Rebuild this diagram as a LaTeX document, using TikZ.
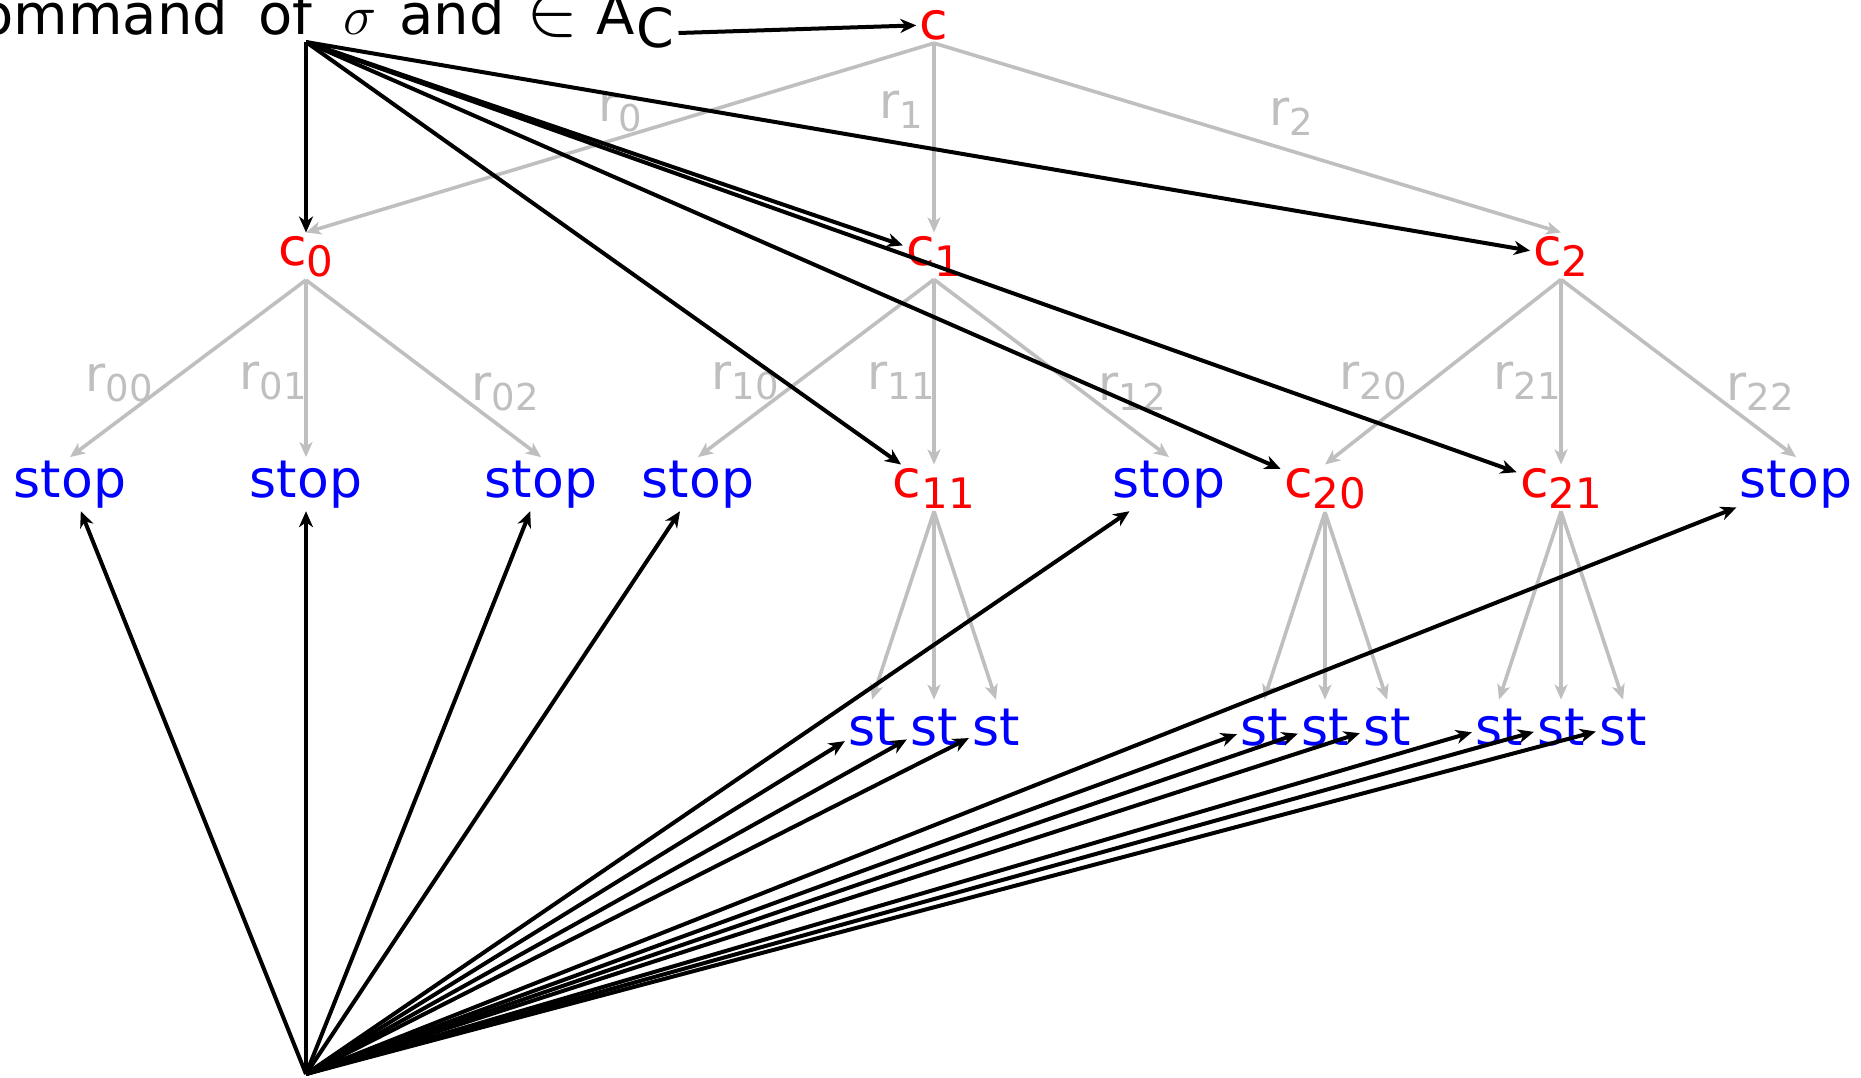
\RequirePackage{fix-cm}
\documentclass[tikz,border=0pt]{standalone}
\usepackage{fontspec}
\setmainfont{DejaVu Sans}
\usetikzlibrary{arrows.meta}
\newcommand{\sbs}[1]{\raisebox{-5pt}{\fontsize{18.5}{18.5}\selectfont #1}}
\newcommand{\nsbs}[1]{\raisebox{-5.5pt}{\fontsize{21}{21}\selectfont #1}}
\newcommand{\wbox}[2]{\makebox[#1][l]{#2}}
\begin{document}
\begin{tikzpicture}[x=0.5pt,y=-0.5pt,
  lbl/.style={font=\fontsize{26}{26}\selectfont, inner sep=1.5pt},
  cnode/.style={lbl,text=red,anchor=base},
  stopnode/.style={lbl,text=blue,anchor=base},
  stnode/.style={lbl,text=blue,anchor=base,text height=21pt},
  elbl/.style={font=\fontsize{24.5}{24.5}\selectfont, text=lightgray, inner sep=0pt, anchor=base},
  tedge/.style={draw=lightgray, line width=1.8pt, -{Stealth[length=7.5pt,width=6.5pt,inset=2pt]}},
  bedge/.style={draw=black, line width=2pt, -{Stealth[length=8pt,width=7pt,inset=2.5pt]}},
]
\useasboundingbox (0,0) rectangle (1861,1077);

% top text
\node[font=\fontsize{28}{28}\selectfont, inner sep=0pt, anchor=base west] (txt) at (-21,34)
  {\wbox{139.5pt}{ommand}\wbox{42.5pt}{of}\wbox{28pt}{$\sigma$}\wbox{63.5pt}{and}\wbox{35pt}{\scalebox{1.4}{$\in$}}\wbox{20pt}{A}\raisebox{-6.5pt}{\fontsize{27}{27}\selectfont C}};

% tree nodes
\node[cnode] (c) at (934,39) {c};
\node[cnode] (c0) at (306,265) {c\nsbs{0}};
\node[cnode] (c1) at (934,265) {c\nsbs{1}};
\node[cnode] (c2) at (1561,265) {c\nsbs{2}};

\node[stopnode] (s00) at (70,497) {stop};
\node[stopnode] (s01) at (306,497) {stop};
\node[stopnode] (s02) at (541,497) {stop};
\node[stopnode] (s10) at (698,497) {stop};
\node[cnode] (c11) at (934,497) {c\nsbs{11}};
\node[stopnode] (s12) at (1169,497) {stop};
\node[cnode] (c20) at (1325,497) {c\nsbs{20}};
\node[cnode] (c21) at (1561,497) {c\nsbs{21}};
\node[stopnode] (s22) at (1796,497) {stop};

\node[stnode] (t110) at (872,745) {st};
\node[stnode] (t111) at (934,745) {st};
\node[stnode] (t112) at (996,745) {st};
\node[stnode] (t200) at (1264,745) {st};
\node[stnode] (t201) at (1325,745) {st};
\node[stnode] (t202) at (1387,745) {st};
\node[stnode] (t210) at (1499,745) {st};
\node[stnode] (t211) at (1561,745) {st};
\node[stnode] (t212) at (1623,745) {st};

% tree edges
\draw[tedge] (c.south) -- (c0.north);
\draw[tedge] (c.south) -- (c1.north);
\draw[tedge] (c.south) -- (c2.north);
\draw[tedge] (c0.south) -- (s00.north);
\draw[tedge] (c0.south) -- (s01.north);
\draw[tedge] (c0.south) -- (s02.north);
\draw[tedge] (c1.south) -- (s10.north);
\draw[tedge] (c1.south) -- (c11.north);
\draw[tedge] (c1.south) -- (s12.north);
\draw[tedge] (c2.south) -- (c20.north);
\draw[tedge] (c2.south) -- (c21.north);
\draw[tedge] (c2.south) -- (s22.north);
\draw[tedge] (c11.south) -- (t110.north);
\draw[tedge] (c11.south) -- (t111.north);
\draw[tedge] (c11.south) -- (t112.north);
\draw[tedge] (c20.south) -- (t200.north);
\draw[tedge] (c20.south) -- (t201.north);
\draw[tedge] (c20.south) -- (t202.north);
\draw[tedge] (c21.south) -- (t210.north);
\draw[tedge] (c21.south) -- (t211.north);
\draw[tedge] (c21.south) -- (t212.north);

% edge labels
\node[elbl] (l0) at (620,121) {r\sbs{0}};
\node[elbl] (l1) at (901,118) {r\sbs{1}};
\node[elbl] (l2) at (1291,125) {r\sbs{2}};
\node[elbl] (l00) at (119,391) {r\sbs{00}};
\node[elbl] (l01) at (273,389) {r\sbs{01}};
\node[elbl] (l02) at (505,400) {r\sbs{02}};
\node[elbl] (l10) at (745,389) {r\sbs{10}};
\node[elbl] (l11) at (901,389) {r\sbs{11}};
\node[elbl] (l12) at (1132,400) {r\sbs{12}};
\node[elbl] (l20) at (1373,389) {r\sbs{20}};
\node[elbl] (l21) at (1527,389) {r\sbs{21}};
\node[elbl] (l22) at (1760,400) {r\sbs{22}};

% black connectors
\coordinate (P) at (306,42);
\coordinate (Q) at (306,1074);
\draw[bedge] ([shift={(4,-1)}]txt.base east) -- (c);
\foreach \n in {c0,c1,c2,c11,c20,c21} \draw[bedge] (P) -- (\n);
\foreach \n in {s00,s01,s02,s10,s12,s22,t110,t111,t112,t200,t201,t202,t210,t211,t212} \draw[bedge] (Q) -- (\n);
\end{tikzpicture}
\end{document}
